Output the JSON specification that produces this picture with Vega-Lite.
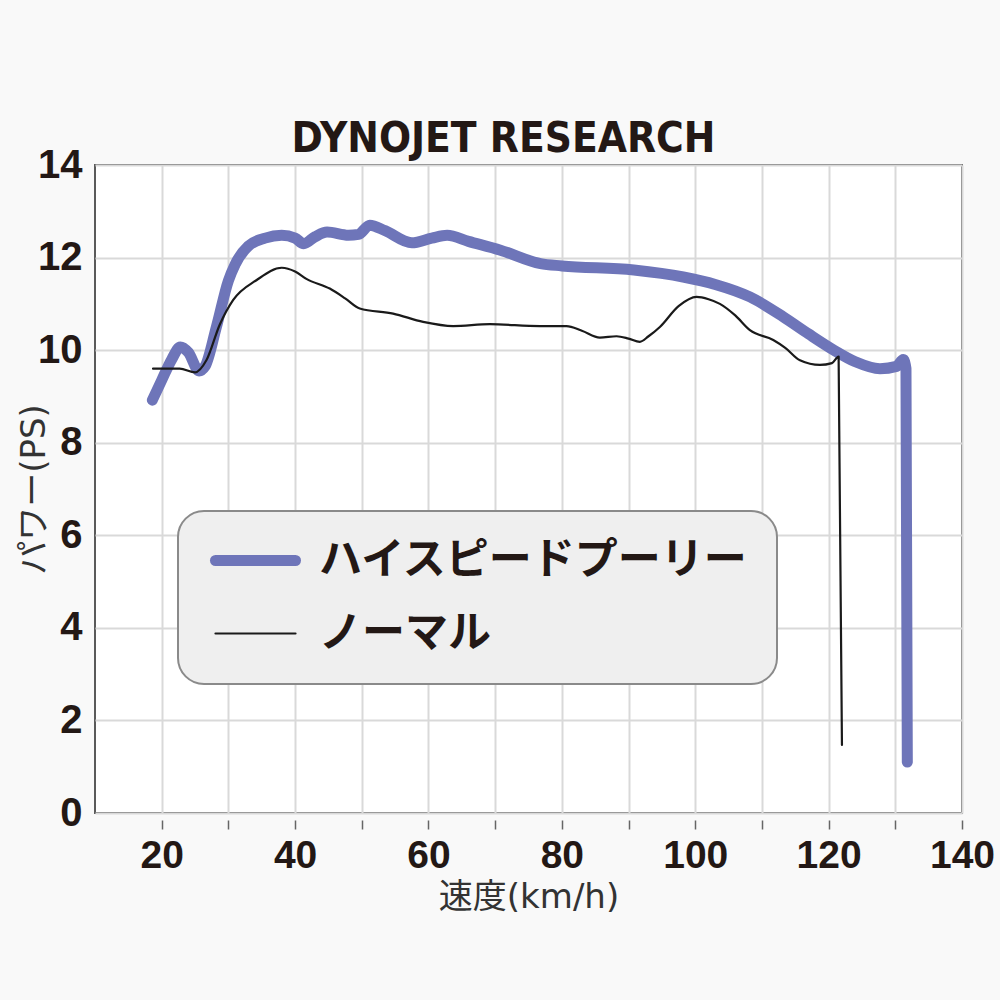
{
  "$schema": "https://vega.github.io/schema/vega-lite/v6.json",
  "width": 867,
  "height": 648,
  "autosize": {"type": "none"},
  "padding": {"left": 95, "top": 165, "right": 38, "bottom": 187},
  "background": "#f9f9f9",
  "title": {"text": "DYNOJET RESEARCH", "font": "DejaVu Sans Condensed, Liberation Sans Narrow, DejaVu Sans", "fontWeight": "bold", "fontSize": 42, "color": "#231815", "anchor": "middle", "frame": "group", "dx": -25, "dy": 62, "offset": 13, "baseline": "alphabetic"},
  "config": {
    "view": {"fill": "white", "stroke": "#5a5a5a", "strokeWidth": 2},
    "axis": {"gridColor": "#d9d9d9", "gridWidth": 2, "domain": false, "labelFont": "Liberation Sans", "labelFontWeight": "bold", "labelColor": "#231815", "labelFlush": false, "labelOverlap": false, "titleFont": "DejaVu Sans, Noto Sans CJK JP", "titleFontWeight": "normal", "titleColor": "#333333", "titleFontSize": 34}
  },
  "data": {"values": [
    {"series": "ハイスピードプーリー", "speed": 18.6, "power": 8.92},
    {"series": "ハイスピードプーリー", "speed": 20.0, "power": 9.35},
    {"series": "ハイスピードプーリー", "speed": 21.5, "power": 9.8},
    {"series": "ハイスピードプーリー", "speed": 22.8, "power": 10.07},
    {"series": "ハイスピードプーリー", "speed": 24.0, "power": 9.95},
    {"series": "ハイスピードプーリー", "speed": 25.6, "power": 9.55},
    {"series": "ハイスピードプーリー", "speed": 26.5, "power": 9.65},
    {"series": "ハイスピードプーリー", "speed": 28.2, "power": 10.5},
    {"series": "ハイスピードプーリー", "speed": 30.0, "power": 11.5},
    {"series": "ハイスピードプーリー", "speed": 31.0, "power": 11.85},
    {"series": "ハイスピードプーリー", "speed": 33.0, "power": 12.25},
    {"series": "ハイスピードプーリー", "speed": 35.5, "power": 12.42},
    {"series": "ハイスピードプーリー", "speed": 38.0, "power": 12.48},
    {"series": "ハイスピードプーリー", "speed": 40.0, "power": 12.42},
    {"series": "ハイスピードプーリー", "speed": 41.3, "power": 12.3},
    {"series": "ハイスピードプーリー", "speed": 43.0, "power": 12.45},
    {"series": "ハイスピードプーリー", "speed": 44.8, "power": 12.55},
    {"series": "ハイスピードプーリー", "speed": 48.0, "power": 12.48},
    {"series": "ハイスピードプーリー", "speed": 49.5, "power": 12.5},
    {"series": "ハイスピードプーリー", "speed": 51.2, "power": 12.7},
    {"series": "ハイスピードプーリー", "speed": 53.5, "power": 12.58},
    {"series": "ハイスピードプーリー", "speed": 57.5, "power": 12.32},
    {"series": "ハイスピードプーリー", "speed": 60.5, "power": 12.42},
    {"series": "ハイスピードプーリー", "speed": 62.8, "power": 12.48},
    {"series": "ハイスピードプーリー", "speed": 66.0, "power": 12.35},
    {"series": "ハイスピードプーリー", "speed": 70.8, "power": 12.16},
    {"series": "ハイスピードプーリー", "speed": 76.8, "power": 11.87},
    {"series": "ハイスピードプーリー", "speed": 80.0, "power": 11.82},
    {"series": "ハイスピードプーリー", "speed": 90.8, "power": 11.73},
    {"series": "ハイスピードプーリー", "speed": 98.2, "power": 11.58},
    {"series": "ハイスピードプーリー", "speed": 103.0, "power": 11.42},
    {"series": "ハイスピードプーリー", "speed": 108.2, "power": 11.15},
    {"series": "ハイスピードプーリー", "speed": 113.2, "power": 10.72},
    {"series": "ハイスピードプーリー", "speed": 117.0, "power": 10.35},
    {"series": "ハイスピードプーリー", "speed": 120.8, "power": 10.0},
    {"series": "ハイスピードプーリー", "speed": 124.0, "power": 9.75},
    {"series": "ハイスピードプーリー", "speed": 127.7, "power": 9.6},
    {"series": "ハイスピードプーリー", "speed": 130.2, "power": 9.65},
    {"series": "ハイスピードプーリー", "speed": 131.2, "power": 9.8},
    {"series": "ハイスピードプーリー", "speed": 131.6, "power": 9.6},
    {"series": "ハイスピードプーリー", "speed": 131.8, "power": 1.1},
    {"series": "ノーマル", "speed": 18.7, "power": 9.6},
    {"series": "ノーマル", "speed": 22.7, "power": 9.6},
    {"series": "ノーマル", "speed": 25.0, "power": 9.52},
    {"series": "ノーマル", "speed": 26.7, "power": 9.78},
    {"series": "ノーマル", "speed": 28.7, "power": 10.55},
    {"series": "ノーマル", "speed": 30.7, "power": 11.08},
    {"series": "ノーマル", "speed": 34.2, "power": 11.51},
    {"series": "ノーマル", "speed": 38.0, "power": 11.78},
    {"series": "ノーマル", "speed": 40.0, "power": 11.7},
    {"series": "ノーマル", "speed": 41.7, "power": 11.54},
    {"series": "ノーマル", "speed": 45.2, "power": 11.33},
    {"series": "ノーマル", "speed": 47.5, "power": 11.12},
    {"series": "ノーマル", "speed": 49.7, "power": 10.9},
    {"series": "ノーマル", "speed": 54.7, "power": 10.79},
    {"series": "ノーマル", "speed": 59.2, "power": 10.61},
    {"series": "ノーマル", "speed": 63.7, "power": 10.52},
    {"series": "ノーマル", "speed": 69.2, "power": 10.56},
    {"series": "ノーマル", "speed": 76.7, "power": 10.52},
    {"series": "ノーマル", "speed": 80.7, "power": 10.52},
    {"series": "ノーマル", "speed": 83.0, "power": 10.42},
    {"series": "ノーマル", "speed": 85.7, "power": 10.27},
    {"series": "ノーマル", "speed": 88.2, "power": 10.3},
    {"series": "ノーマル", "speed": 90.0, "power": 10.25},
    {"series": "ノーマル", "speed": 91.7, "power": 10.18},
    {"series": "ノーマル", "speed": 93.0, "power": 10.3},
    {"series": "ノーマル", "speed": 94.7, "power": 10.5},
    {"series": "ノーマル", "speed": 97.5, "power": 10.95},
    {"series": "ノーマル", "speed": 100.2, "power": 11.15},
    {"series": "ノーマル", "speed": 102.0, "power": 11.1},
    {"series": "ノーマル", "speed": 103.7, "power": 11.0},
    {"series": "ノーマル", "speed": 106.0, "power": 10.75},
    {"series": "ノーマル", "speed": 108.2, "power": 10.43},
    {"series": "ノーマル", "speed": 111.7, "power": 10.22},
    {"series": "ノーマル", "speed": 113.5, "power": 10.05},
    {"series": "ノーマル", "speed": 115.7, "power": 9.78},
    {"series": "ノーマル", "speed": 118.7, "power": 9.68},
    {"series": "ノーマル", "speed": 120.5, "power": 9.72},
    {"series": "ノーマル", "speed": 121.5, "power": 9.86},
    {"series": "ノーマル", "speed": 122.0, "power": 1.47}
  ]},
  "mark": {"type": "line", "interpolate": "monotone", "strokeCap": "round", "strokeJoin": "round"},
  "encoding": {
    "x": {
      "field": "speed", "type": "quantitative",
      "scale": {"domain": [10, 140], "nice": false, "zero": false},
      "axis": {"values": [20, 30, 40, 50, 60, 70, 80, 90, 100, 110, 120, 130, 140], "labelExpr": "datum.value % 20 == 0 ? datum.label : ''", "grid": true, "offset": 7, "tickSize": 9, "tickColor": "#666666", "tickWidth": 1.5, "labelFontSize": 39, "labelPadding": 7, "title": "速度(km/h)", "titlePadding": 5}
    },
    "y": {
      "field": "power", "type": "quantitative",
      "scale": {"domain": [0, 14], "nice": false},
      "axis": {"values": [0, 2, 4, 6, 8, 10, 12, 14], "grid": true, "ticks": false, "labelFontSize": 40, "labelPadding": 13, "title": "パワー(PS)", "titlePadding": -14}
    },
    "color": {
      "field": "series", "type": "nominal",
      "scale": {"domain": ["ハイスピードプーリー", "ノーマル"], "range": ["#6e75b9", "#1a1a1a"]},
      "legend": {"orient": "none", "legendX": 83, "legendY": 346, "title": null, "fillColor": "#efefef", "strokeColor": "#8a8a8a", "cornerRadius": 26, "padding": 28, "symbolType": "M-4,0H4", "symbolSize": 400, "symbolOffset": 28, "labelOffset": 42, "labelFont": "Noto Sans CJK JP", "labelFontSize": 43, "labelFontWeight": "bold", "labelColor": "#231815", "labelLimit": 700, "rowPadding": 29, "symbolStrokeWidth": 10,
        "encode": {
          "legend": {"update": {"strokeWidth": {"value": 2}}},
          "symbols": {"update": {"strokeWidth": {"signal": "datum.value === 'ノーマル' ? 2.2 : 11"}, "strokeCap": {"value": "round"}, "fill": {"value": "transparent"}}}
        }
      }
    },
    "strokeWidth": {
      "field": "series", "type": "nominal",
      "scale": {"domain": ["ハイスピードプーリー", "ノーマル"], "range": [11, 2.2]},
      "legend": null
    }
  }
}
